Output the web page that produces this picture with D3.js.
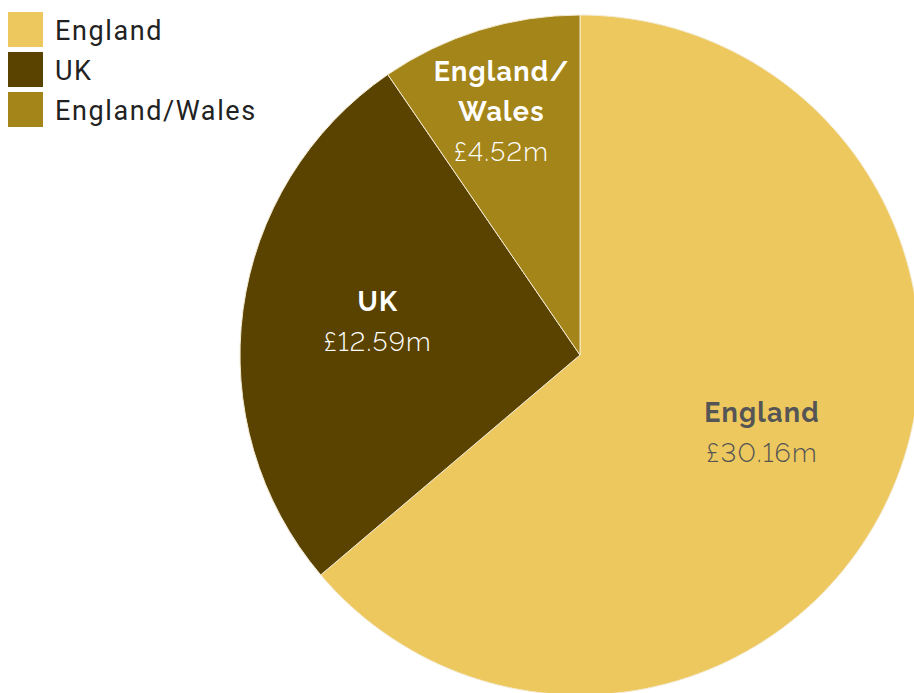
<!DOCTYPE html>
<html>
<head>
<meta charset="utf-8">
<script src="https://cdn.jsdelivr.net/npm/d3@7"></script>
<style>
  html, body { margin: 0; padding: 0; background: #fff; }
  svg { display: block; }
  .slice-label { font-variant-numeric: lining-nums; font-feature-settings: "lnum" 1; }
</style>
</head>
<body>
<svg id="chart" width="914" height="693"></svg>
<script>
// Funding by geographic scope (£ millions)
const regions = ["England", "UK", "England/Wales"];
const amounts = [30.16, 12.59, 4.52];
const sliceNames = [["England"], ["UK"], ["England/", "Wales"]];
const palette = ["#EDC85E", "#5A4200", "#A4851A"];
const labelInk = ["#555555", "#ffffff", "#ffffff"];

const data = regions.map((r, i) => ({ region: r, amount: amounts[i], names: sliceNames[i], i }));

const svg = d3.select("#chart");
const cx = 580, cy = 355, R = 340;

const color = d3.scaleOrdinal().domain(regions).range(palette);

const pie = d3.pie().value(d => d.amount).sort(null);
const arc = d3.arc().innerRadius(0).outerRadius(R);

const g = svg.append("g").attr("transform", `translate(${cx},${cy})`);
const arcs = pie(data);

g.selectAll("path.slice")
  .data(arcs)
  .join("path")
  .attr("class", "slice")
  .attr("d", arc)
  .attr("fill", d => color(d.data.region))
  .attr("stroke", "#f3ead0")
  .attr("stroke-width", 1);

// label placement: distance from the centre as a share of the radius,
// and a small sideways nudge
const labelShare = [0.59, 0.6, 0.73];
const labelNudge = [0, 0, -5];
const fmt = v => "£" + d3.format(".2f")(v) + "m";

arcs.forEach(a => {
  const k0 = a.data.i;
  const mid = (a.startAngle + a.endAngle) / 2;
  const r = R * labelShare[k0];
  const x = Math.sin(mid) * r + labelNudge[k0], y = -Math.cos(mid) * r;
  const lines = a.data.names.length + 1;
  const lh = 40;
  const top = y - (lines - 1) * lh / 2;
  const t = g.append("text")
    .attr("class", "slice-label")
    .attr("text-anchor", "middle")
    .attr("fill", labelInk[k0])
    .style("font-family", "Raleway, Lato, sans-serif")
    .style("letter-spacing", "1.2px");
  a.data.names.forEach((n, k) => {
    t.append("tspan").attr("x", x).attr("y", top + k * lh + 3)
      .style("font-weight", 700).style("font-size", "27px").text(n);
  });
  t.append("tspan").attr("x", x).attr("y", top + a.data.names.length * lh + 3)
    .style("font-weight", 300).style("font-size", "27px").text(fmt(a.data.amount));
});

// legend
const legend = svg.append("g").attr("transform", "translate(8,12)");
const items = legend.selectAll("g").data(regions).join("g")
  .attr("transform", (d, i) => `translate(0,${i * 40})`);
items.append("rect").attr("width", 35).attr("height", 35)
  .attr("fill", d => color(d));
items.append("text").attr("x", 47).attr("y", 28)
  .style("font-family", "Roboto, sans-serif").style("font-size", "27px")
  .style("letter-spacing", "1.6px")
  .attr("fill", "#222").text(d => d);
</script>
</body>
</html>
